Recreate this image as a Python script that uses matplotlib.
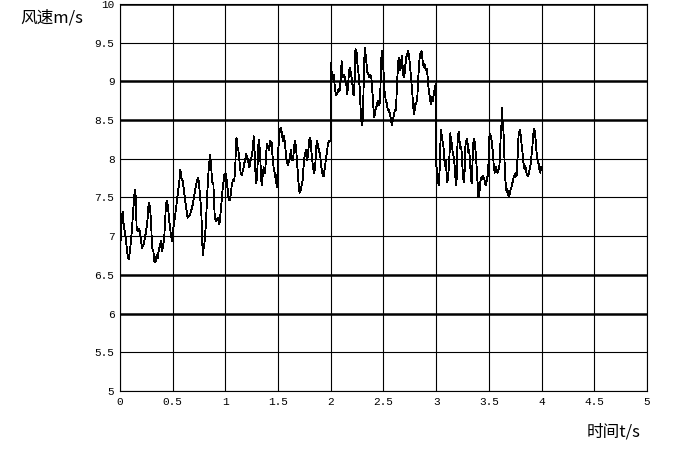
import matplotlib
matplotlib.use("Agg")
import matplotlib.pyplot as plt

# wind speed trace (time in s, speed in m/s)
t_0 = [0.000, 0.009, 0.019, 0.025, 0.032, 0.041, 0.057, 0.073, 0.082, 0.095,
       0.104, 0.114, 0.127, 0.136, 0.146, 0.152, 0.158, 0.168, 0.177, 0.190,
       0.199, 0.209, 0.222, 0.231, 0.247, 0.263, 0.272, 0.278, 0.288, 0.297,
       0.304, 0.316, 0.326, 0.335, 0.348, 0.358, 0.367, 0.380, 0.389, 0.399,
       0.411, 0.421, 0.430, 0.437, 0.446, 0.456, 0.468, 0.484, 0.494, 0.506,
       0.516, 0.532, 0.547, 0.563, 0.573, 0.582, 0.595, 0.611, 0.627, 0.642,
       0.658, 0.674, 0.690, 0.706, 0.722, 0.737, 0.747, 0.759, 0.772, 0.778,
       0.785, 0.794, 0.804, 0.816, 0.829, 0.842, 0.854, 0.864, 0.873, 0.886,
       0.899, 0.911, 0.927, 0.943, 0.959, 0.975, 0.991]
v_0 = [6.76, 7.06, 7.24, 7.32, 7.19, 7.09, 6.94, 6.74, 6.70, 6.81,
       6.94, 7.11, 7.37, 7.54, 7.60, 7.37, 7.09, 7.06, 7.09, 7.06,
       6.94, 6.85, 6.89, 6.94, 7.06, 7.24, 7.43, 7.43, 7.32, 7.11,
       6.85, 6.81, 6.68, 6.66, 6.76, 6.72, 6.81, 6.89, 6.94, 6.81,
       6.89, 7.02, 7.24, 7.43, 7.45, 7.37, 7.19, 7.00, 6.94, 7.11,
       7.19, 7.37, 7.54, 7.71, 7.86, 7.75, 7.71, 7.54, 7.37, 7.24,
       7.26, 7.32, 7.41, 7.54, 7.67, 7.75, 7.71, 7.54, 7.28, 7.02,
       6.76, 6.85, 6.94, 7.19, 7.58, 7.88, 8.05, 7.93, 7.71, 7.67,
       7.24, 7.19, 7.24, 7.15, 7.37, 7.63, 7.80]

t_1 = [1.000, 1.006, 1.015, 1.025, 1.031, 1.043, 1.052, 1.062, 1.074, 1.083,
       1.093, 1.099, 1.105, 1.114, 1.123, 1.136, 1.145, 1.154, 1.167, 1.176,
       1.185, 1.198, 1.207, 1.216, 1.228, 1.238, 1.247, 1.259, 1.269, 1.278,
       1.284, 1.293, 1.302, 1.309, 1.315, 1.324, 1.333, 1.340, 1.346, 1.355,
       1.364, 1.377, 1.386, 1.395, 1.404, 1.414, 1.426, 1.438, 1.448, 1.457,
       1.469, 1.478, 1.488, 1.494, 1.503, 1.515, 1.525, 1.537, 1.546, 1.556,
       1.562, 1.571, 1.580, 1.593, 1.602, 1.611, 1.623, 1.633, 1.642, 1.651,
       1.660, 1.670, 1.679, 1.691, 1.704, 1.716, 1.725, 1.735, 1.741, 1.753,
       1.765, 1.775, 1.784, 1.796, 1.806, 1.815, 1.827, 1.840, 1.852, 1.861,
       1.870, 1.880, 1.889, 1.901, 1.910, 1.920, 1.932, 1.944, 1.957, 1.969,
       1.981, 1.998]
v_1 = [7.80, 7.81, 7.68, 7.56, 7.47, 7.47, 7.56, 7.68, 7.73, 7.71,
       7.85, 8.15, 8.27, 8.15, 8.11, 7.94, 7.81, 7.79, 7.85, 7.92,
       7.98, 8.06, 8.02, 7.96, 7.89, 7.98, 8.02, 8.11, 8.29, 8.06,
       7.85, 7.68, 7.81, 8.06, 8.25, 8.15, 7.94, 7.73, 7.66, 7.81,
       7.89, 7.81, 8.06, 8.19, 8.15, 8.11, 8.23, 8.21, 8.02, 7.89,
       7.81, 7.73, 7.64, 7.81, 8.15, 8.36, 8.40, 8.32, 8.23, 8.29,
       8.23, 8.11, 7.98, 7.92, 7.96, 8.02, 8.11, 7.98, 7.98, 8.15,
       8.23, 8.15, 7.98, 7.73, 7.56, 7.60, 7.68, 7.73, 7.89, 8.06,
       8.11, 7.98, 8.06, 8.25, 8.27, 8.11, 7.94, 7.81, 7.89, 8.15,
       8.23, 8.15, 8.11, 8.02, 7.89, 7.81, 7.77, 7.89, 8.02, 8.15,
       8.23, 8.23]

t_2 = [2.000, 2.006, 2.016, 2.026, 2.032, 2.042, 2.051, 2.064, 2.074, 2.083,
       2.093, 2.103, 2.109, 2.119, 2.128, 2.138, 2.147, 2.154, 2.163, 2.173,
       2.183, 2.192, 2.202, 2.212, 2.218, 2.228, 2.234, 2.244, 2.250, 2.260,
       2.266, 2.276, 2.282, 2.288, 2.295, 2.304, 2.311, 2.317, 2.324, 2.330,
       2.340, 2.349, 2.356, 2.365, 2.375, 2.385, 2.394, 2.404, 2.413, 2.423,
       2.433, 2.442, 2.452, 2.462, 2.471, 2.478, 2.484, 2.494, 2.500, 2.506,
       2.513, 2.522, 2.532, 2.542, 2.551, 2.561, 2.571, 2.580, 2.590, 2.599,
       2.609, 2.619, 2.628, 2.635, 2.641, 2.651, 2.660, 2.670, 2.676, 2.686,
       2.696, 2.705, 2.715, 2.724, 2.734, 2.744, 2.753, 2.763, 2.772, 2.782,
       2.792, 2.801, 2.811, 2.821, 2.830, 2.840, 2.846, 2.853, 2.862, 2.872,
       2.881, 2.891, 2.901, 2.910, 2.920, 2.929, 2.939, 2.949, 2.958, 2.968,
       2.978, 2.987, 2.997]
v_2 = [9.24, 9.14, 9.03, 9.09, 9.01, 8.88, 8.82, 8.86, 8.90, 8.88,
       9.01, 9.26, 9.11, 9.05, 9.09, 9.01, 8.97, 8.84, 8.92, 9.14,
       9.18, 9.09, 9.01, 8.84, 8.82, 9.05, 9.42, 9.39, 9.26, 9.14,
       9.05, 8.88, 8.67, 8.50, 8.44, 8.50, 8.88, 9.26, 9.43, 9.35,
       9.22, 9.09, 9.11, 9.05, 9.09, 9.05, 8.88, 8.67, 8.54, 8.63,
       8.67, 8.73, 8.75, 8.69, 8.92, 9.26, 9.39, 9.26, 9.14, 8.92,
       8.84, 8.75, 8.71, 8.63, 8.63, 8.58, 8.50, 8.44, 8.50, 8.58,
       8.63, 8.63, 8.97, 9.14, 9.26, 9.31, 9.14, 9.26, 9.33, 9.09,
       9.05, 9.18, 9.31, 9.35, 9.39, 9.31, 9.18, 9.01, 8.88, 8.67,
       8.58, 8.71, 8.71, 8.80, 9.05, 9.26, 9.35, 9.35, 9.39, 9.26,
       9.18, 9.22, 9.14, 9.16, 9.05, 8.88, 8.80, 8.71, 8.80, 8.75,
       8.84, 8.92, 8.97]

t_3 = [3.000, 3.006, 3.016, 3.022, 3.028, 3.034, 3.041, 3.044, 3.053, 3.059,
       3.069, 3.075, 3.081, 3.088, 3.094, 3.100, 3.106, 3.113, 3.122, 3.128,
       3.134, 3.141, 3.150, 3.156, 3.166, 3.175, 3.181, 3.188, 3.194, 3.200,
       3.206, 3.213, 3.219, 3.225, 3.231, 3.238, 3.244, 3.250, 3.256, 3.263,
       3.269, 3.275, 3.281, 3.288, 3.294, 3.300, 3.306, 3.313, 3.319, 3.325,
       3.331, 3.338, 3.344, 3.350, 3.356, 3.363, 3.369, 3.375, 3.381, 3.388,
       3.394, 3.400, 3.406, 3.413, 3.419, 3.425, 3.431, 3.438, 3.444, 3.450,
       3.456, 3.463, 3.469, 3.475, 3.481, 3.488, 3.494, 3.500, 3.506, 3.513,
       3.519, 3.525, 3.531, 3.538, 3.544, 3.550, 3.556, 3.563, 3.569, 3.575,
       3.581, 3.588, 3.594, 3.600, 3.606, 3.613, 3.619, 3.625, 3.631, 3.638,
       3.644, 3.650, 3.656, 3.663, 3.669, 3.675, 3.681, 3.688, 3.694, 3.700,
       3.706, 3.713, 3.719, 3.725, 3.731, 3.738, 3.744, 3.750, 3.756, 3.763,
       3.769, 3.775, 3.781, 3.788, 3.794, 3.800, 3.806, 3.813, 3.819, 3.825,
       3.831, 3.838, 3.844, 3.850, 3.856, 3.863, 3.869, 3.875, 3.881, 3.888,
       3.894, 3.900, 3.906, 3.913, 3.919, 3.925, 3.931, 3.938, 3.944, 3.950,
       3.956, 3.963, 3.969, 3.975, 3.981, 3.988, 3.994, 4.000]
v_3 = [7.91, 7.87, 7.78, 7.66, 7.66, 7.91, 8.20, 8.37, 8.29, 8.24,
       8.16, 8.03, 7.91, 7.99, 7.91, 7.78, 7.70, 7.78, 7.91, 8.12,
       8.33, 8.20, 8.20, 8.08, 8.03, 7.91, 7.78, 7.66, 7.74, 8.12,
       8.29, 8.35, 8.29, 8.16, 8.12, 8.16, 8.03, 7.87, 7.74, 7.70,
       7.82, 8.12, 8.22, 8.24, 8.26, 8.16, 8.08, 8.12, 7.99, 7.87,
       7.74, 7.68, 7.91, 8.16, 8.26, 8.24, 8.16, 8.08, 7.95, 7.82,
       7.66, 7.51, 7.53, 7.61, 7.70, 7.74, 7.76, 7.74, 7.78, 7.76,
       7.74, 7.68, 7.66, 7.66, 7.74, 7.78, 7.87, 8.08, 8.33, 8.31,
       8.29, 8.24, 8.16, 8.08, 7.95, 7.87, 7.82, 7.84, 7.89, 7.84,
       7.82, 7.84, 7.87, 7.91, 8.08, 8.33, 8.43, 8.66, 8.45, 8.37,
       8.16, 7.91, 7.74, 7.61, 7.57, 7.61, 7.55, 7.51, 7.53, 7.55,
       7.61, 7.63, 7.66, 7.70, 7.74, 7.78, 7.76, 7.80, 7.82, 7.78,
       7.95, 8.08, 8.29, 8.35, 8.37, 8.33, 8.24, 8.16, 8.08, 7.99,
       7.91, 7.87, 7.91, 7.87, 7.82, 7.80, 7.78, 7.78, 7.82, 7.87,
       7.91, 7.99, 8.08, 8.16, 8.29, 8.35, 8.39, 8.33, 8.24, 8.12,
       8.03, 7.99, 7.95, 7.91, 7.84, 7.82, 7.89, 7.87]

x_ticks = [0, 0.5, 1, 1.5, 2, 2.5, 3, 3.5, 4, 4.5, 5]
x_labels = ['0', '0.5', '1', '1.5', '2', '2.5', '3', '3.5', '4', '4.5', '5']
y_ticks = [5, 5.5, 6, 6.5, 7, 7.5, 8, 8.5, 9, 9.5, 10]
y_labels = ['5', '5.5', '6', '6.5', '7', '7.5', '8', '8.5', '9', '9.5', '10']
thick_rows = [6, 6.5, 8.5, 9, 10]

t = t_0 + t_1 + t_2 + t_3
v = v_0 + v_1 + v_2 + v_3

fig = plt.figure(figsize=(6.85, 4.53), dpi=100)
ax = fig.add_axes([0.1752, 0.1369, 0.7693, 0.8543])

for y in y_ticks:
    ax.axhline(y, color='black', lw=1.8 if y in thick_rows else 0.8, zorder=1)
for x in x_ticks:
    ax.axvline(x, color='black', lw=0.8, zorder=1)

ax.plot(t, v, color='black', lw=0.6, antialiased=False, zorder=2)

ax.set_xlim(0, 5)
ax.set_ylim(5, 10)
ax.set_xticks(x_ticks)
ax.set_xticklabels(x_labels, family='Liberation Mono', fontsize=8)
ax.set_yticks(y_ticks)
ax.set_yticklabels(y_labels, family='Liberation Mono', fontsize=8)
ax.tick_params(length=0, pad=4)
for s in ax.spines.values():
    s.set_linewidth(0.8)

fig.text(20 / 685, 1 - 18 / 453, '风速m/s', family=['Noto Sans CJK SC', 'DejaVu Sans'],
         fontsize=12, ha='left', va='center')
fig.text(587 / 685, 1 - 432 / 453, '时间t/s', family=['Noto Sans CJK SC', 'DejaVu Sans'],
         fontsize=12, ha='left', va='center')

fig.savefig('out.png', dpi=100)
